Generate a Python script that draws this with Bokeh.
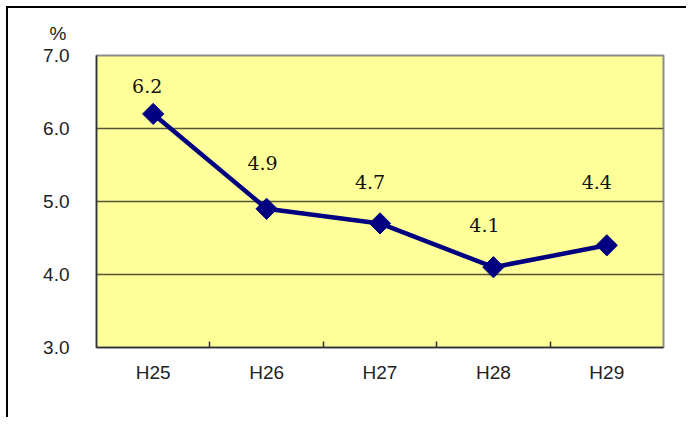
import numpy as np
from bokeh.plotting import figure
from bokeh.models import ColumnDataSource, FixedTicker, Range1d
from bokeh.core.properties import value
from bokeh.embed import file_html
from bokeh.resources import INLINE

# ---- data ----
categories = ["H25", "H26", "H27", "H28", "H29"]
rates = [6.2, 4.9, 4.7, 4.1, 4.4]
y_ticks = [3.0, 4.0, 5.0, 6.0, 7.0]
y_unit = "%"

# label placement (screen px, style only)
label_dx = [-6, -4, -10, -9, -10]
label_dy = [28, 46, 41, 42, 63]

xs = [i + 0.5 for i in range(len(categories))]
src = ColumnDataSource(dict(x=xs, y=rates,
                            lab=[f"{v:.1f}" for v in rates],
                            dx=label_dx, dy=[-d for d in label_dy]))

p = figure(width=678, height=409, output_backend="svg", toolbar_location=None,
           x_range=Range1d(0, len(categories)), y_range=Range1d(3, 7),
           frame_width=567, frame_height=292,
           min_border_left=88, min_border_top=47, min_border_right=23, min_border_bottom=70)
p.styles = {"border-top": "2px solid #000", "border-left": "2px solid #000",
            "margin-left": "6px", "margin-top": "6px"}

p.border_fill_color = "white"
p.background_fill_color = "#FFFF99"
p.outline_line_color = "#8c8c8c"
p.outline_line_width = 2

# unit shown as title, above the y axis
p.title.text = y_unit
p.title.align = "left"
p.title.offset = -47
p.title.standoff = 23
p.title.text_font = "Liberation Sans"
p.title.text_font_size = "19px"
p.title.text_font_style = "normal"
p.title.text_color = "#222222"

# y axis
p.yaxis.ticker = FixedTicker(ticks=y_ticks)
p.yaxis.major_label_overrides = {t: f"{t:.1f}" for t in y_ticks}
p.yaxis.major_tick_in = 0
p.yaxis.major_tick_out = 0
p.yaxis.minor_tick_line_color = None
p.yaxis.major_label_standoff = 27
p.yaxis.axis_line_color = "#333333"
p.yaxis.axis_line_width = 1.5
p.yaxis.major_label_text_font = "Liberation Sans"
p.yaxis.major_label_text_font_size = "19px"
p.yaxis.major_label_text_color = "#222222"

# x axis
p.xaxis.ticker = FixedTicker(ticks=xs, minor_ticks=list(range(1, len(categories))))
p.xaxis.major_label_overrides = {x: c for x, c in zip(xs, categories)}
p.xaxis.major_tick_line_color = None
p.xaxis.major_tick_in = 0
p.xaxis.major_tick_out = 0
p.xaxis.minor_tick_in = 6
p.xaxis.minor_tick_out = 0
p.xaxis.minor_tick_line_color = "#333333"
p.xaxis.minor_tick_line_width = 1.5
p.xaxis.major_label_standoff = 14
p.xaxis.axis_line_color = "#333333"
p.xaxis.axis_line_width = 1.5
p.xaxis.major_label_text_font = "Liberation Sans"
p.xaxis.major_label_text_font_size = "19px"
p.xaxis.major_label_text_color = "#222222"

p.xgrid.grid_line_color = None
p.ygrid.ticker = FixedTicker(ticks=y_ticks)
p.ygrid.grid_line_color = "#55553a"
p.ygrid.grid_line_width = 1.5

p.line("x", "y", source=src, line_color="#000080", line_width=4.5)
p.scatter("x", "y", source=src, marker="square", angle=np.pi / 4, size=15,
          fill_color="#000080", line_color="#000080")
p.text("x", "y", text="lab", source=src, x_offset="dx", y_offset="dy",
       text_align="center", text_baseline="middle",
       text_font=value("DejaVu Serif"), text_font_size="19px", text_color="#111111")

open("out.html", "w").write(file_html(p, INLINE))
